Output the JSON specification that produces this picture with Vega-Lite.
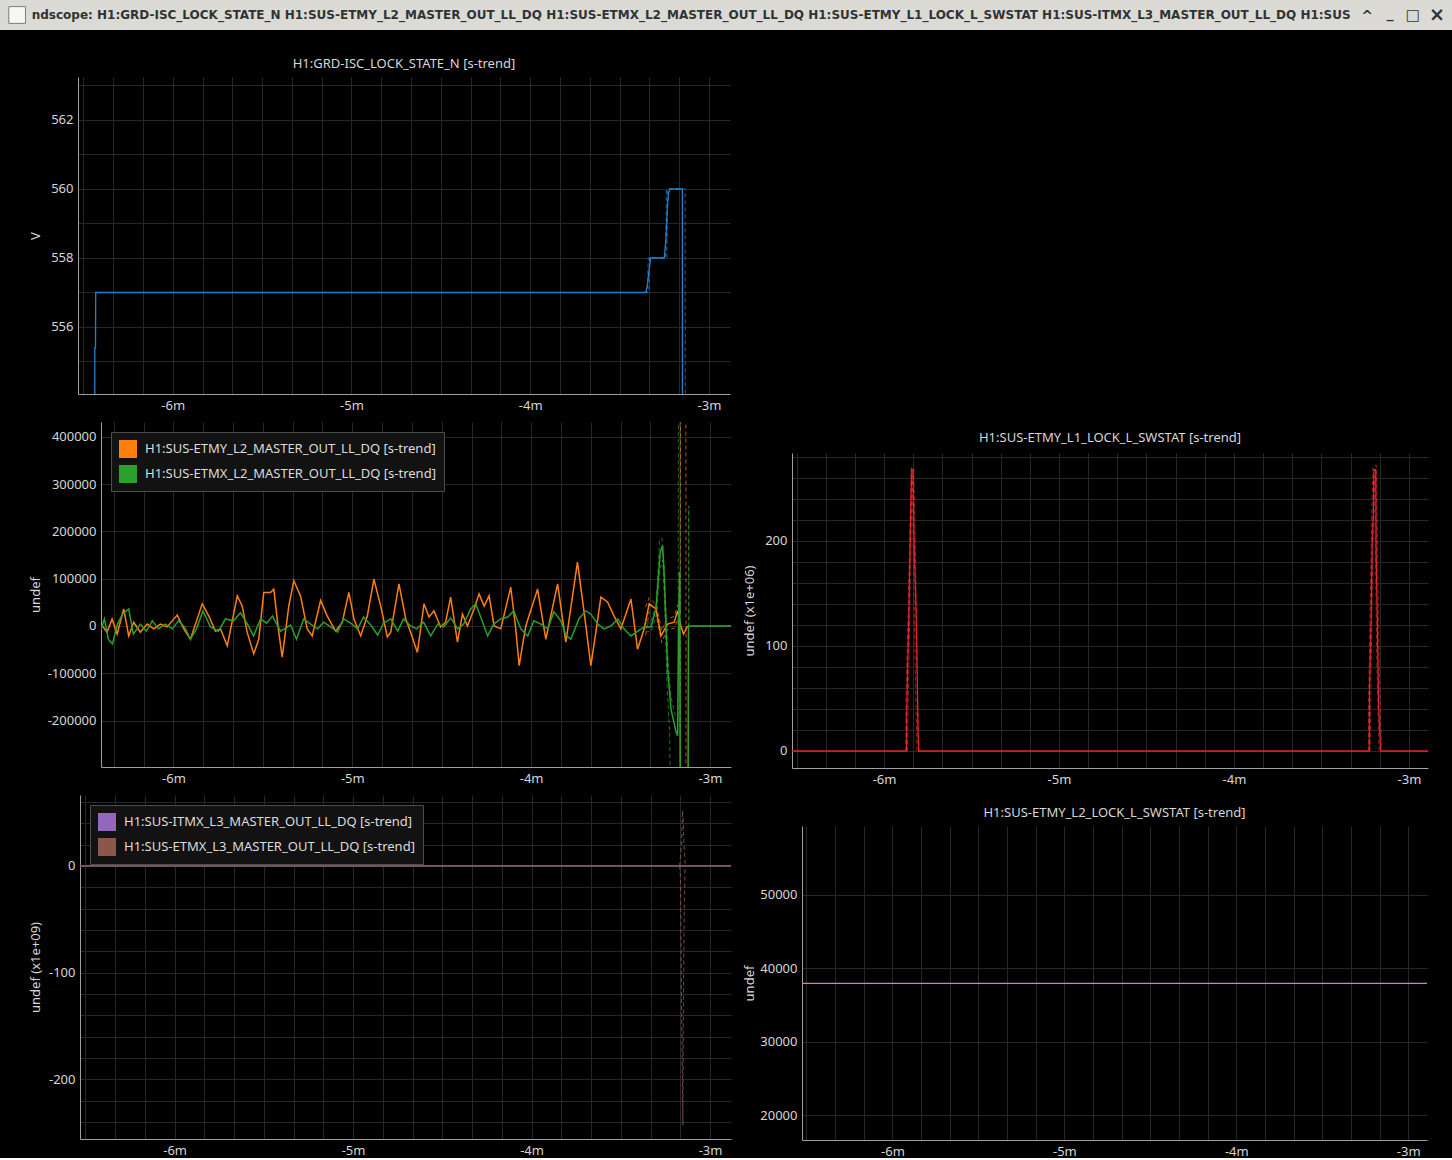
{
  "$schema": "https://vega.github.io/schema/vega-lite/v6.json",
  "background": "#000000",
  "padding": 0,
  "spacing": 28,
  "config": {
    "font": "Noto Sans",
    "view": {"stroke": null},
    "axis": {
      "grid": true, "gridColor": "#282828", "gridWidth": 1,
      "domain": true, "domainColor": "#a0a0a0", "domainWidth": 1,
      "ticks": false, "tickSize": 0,
      "labelColor": "#d6d6d6", "labelFont": "Noto Sans", "labelFontSize": 13, "labelPadding": 5,
      "labelOverlap": false, "labelFlush": false,
      "titleColor": "#d6d6d6", "titleFont": "Noto Sans", "titleFontSize": 13, "titleFontWeight": "normal"
    },
    "title": {"color": "#d6d6d6", "font": "Noto Sans", "fontSize": 13, "fontWeight": "normal", "offset": 6},
    "legend": {
      "orient": "top-left", "offset": 10, "title": null,
      "fillColor": "#121212", "strokeColor": "#4d4d4d", "padding": 8,
      "symbolType": "square", "symbolSize": 324, "symbolStrokeWidth": 0, "symbolOpacity": 1,
      "labelColor": "#dcdcdc", "labelFont": "Noto Sans", "labelFontSize": 13, "labelLimit": 400, "labelOffset": 8,
      "rowPadding": 7
    }
  },
  "datasets": {
    "bar": [
      {"title": "ndscope: H1:GRD-ISC_LOCK_STATE_N H1:SUS-ETMY_L2_MASTER_OUT_LL_DQ H1:SUS-ETMX_L2_MASTER_OUT_LL_DQ H1:SUS-ETMY_L1_LOCK_L_SWSTAT H1:SUS-ITMX_L3_MASTER_OUT_LL_DQ H1:SUS", "b1": "^", "b2": "_", "b3": "□", "b4": "×"}
    ],
    "p1": [
      {"k": "mean", "t": -6.437, "v": 540}, {"k": "mean", "t": -6.436, "v": 555.4}, {"k": "mean", "t": -6.432, "v": 555.4},
      {"k": "mean", "t": -6.431, "v": 557}, {"k": "mean", "t": -3.353, "v": 557}, {"k": "mean", "t": -3.345, "v": 557.2},
      {"k": "mean", "t": -3.334, "v": 557.7}, {"k": "mean", "t": -3.326, "v": 558}, {"k": "mean", "t": -3.25, "v": 558},
      {"k": "mean", "t": -3.241, "v": 558.55}, {"k": "mean", "t": -3.233, "v": 559.45}, {"k": "mean", "t": -3.226, "v": 559.9},
      {"k": "mean", "t": -3.218, "v": 560}, {"k": "mean", "t": -3.149, "v": 560}, {"k": "mean", "t": -3.148, "v": 540},
      {"k": "max", "t": -3.36, "v": 557}, {"k": "max", "t": -3.344, "v": 557}, {"k": "max", "t": -3.34, "v": 558},
      {"k": "max", "t": -3.242, "v": 558}, {"k": "max", "t": -3.238, "v": 560}, {"k": "max", "t": -3.133, "v": 560},
      {"k": "max", "t": -3.132, "v": 540},
      {"k": "min", "t": -3.36, "v": 557}, {"k": "min", "t": -3.336, "v": 557}, {"k": "min", "t": -3.331, "v": 558},
      {"k": "min", "t": -3.236, "v": 558}, {"k": "min", "t": -3.231, "v": 560}, {"k": "min", "t": -3.16, "v": 560}
    ],
    "p2mean": [
      {"s": "ETMY", "t": -6.409, "v": -2000}, {"s": "ETMY", "t": -6.399, "v": 1000}, {"s": "ETMY", "t": -6.371, "v": -13000},
      {"s": "ETMY", "t": -6.343, "v": 15000}, {"s": "ETMY", "t": -6.315, "v": -17000}, {"s": "ETMY", "t": -6.278, "v": 36000},
      {"s": "ETMY", "t": -6.25, "v": -21000}, {"s": "ETMY", "t": -6.222, "v": 8000}, {"s": "ETMY", "t": -6.185, "v": -13000},
      {"s": "ETMY", "t": -6.147, "v": 4000}, {"s": "ETMY", "t": -6.11, "v": -6000}, {"s": "ETMY", "t": -6.073, "v": 4000},
      {"s": "ETMY", "t": -6.035, "v": -2000}, {"s": "ETMY", "t": -5.979, "v": 23000}, {"s": "ETMY", "t": -5.942, "v": -6000},
      {"s": "ETMY", "t": -5.905, "v": -28000}, {"s": "ETMY", "t": -5.839, "v": 47000}, {"s": "ETMY", "t": -5.802, "v": 21000},
      {"s": "ETMY", "t": -5.765, "v": -11000}, {"s": "ETMY", "t": -5.737, "v": -6000}, {"s": "ETMY", "t": -5.699, "v": -42000},
      {"s": "ETMY", "t": -5.643, "v": 64000}, {"s": "ETMY", "t": -5.615, "v": 42000}, {"s": "ETMY", "t": -5.588, "v": -13000},
      {"s": "ETMY", "t": -5.551, "v": -59000}, {"s": "ETMY", "t": -5.523, "v": -28000}, {"s": "ETMY", "t": -5.495, "v": 71000},
      {"s": "ETMY", "t": -5.457, "v": 71000}, {"s": "ETMY", "t": -5.439, "v": 78000}, {"s": "ETMY", "t": -5.411, "v": -13000},
      {"s": "ETMY", "t": -5.392, "v": -66000}, {"s": "ETMY", "t": -5.355, "v": 42000}, {"s": "ETMY", "t": -5.327, "v": 96000},
      {"s": "ETMY", "t": -5.289, "v": 63000}, {"s": "ETMY", "t": -5.252, "v": -6000}, {"s": "ETMY", "t": -5.224, "v": -21000},
      {"s": "ETMY", "t": -5.177, "v": 54000}, {"s": "ETMY", "t": -5.14, "v": 21000}, {"s": "ETMY", "t": -5.093, "v": -11000},
      {"s": "ETMY", "t": -5.056, "v": 8000}, {"s": "ETMY", "t": -5.019, "v": 71000}, {"s": "ETMY", "t": -4.991, "v": 15000},
      {"s": "ETMY", "t": -4.953, "v": -21000}, {"s": "ETMY", "t": -4.916, "v": 21000}, {"s": "ETMY", "t": -4.879, "v": 99000},
      {"s": "ETMY", "t": -4.841, "v": 42000}, {"s": "ETMY", "t": -4.804, "v": -23000}, {"s": "ETMY", "t": -4.785, "v": -13000},
      {"s": "ETMY", "t": -4.739, "v": 89000}, {"s": "ETMY", "t": -4.701, "v": 15000}, {"s": "ETMY", "t": -4.674, "v": -13000},
      {"s": "ETMY", "t": -4.636, "v": -56000}, {"s": "ETMY", "t": -4.599, "v": 47000}, {"s": "ETMY", "t": -4.571, "v": 19000},
      {"s": "ETMY", "t": -4.543, "v": 32000}, {"s": "ETMY", "t": -4.506, "v": -2000}, {"s": "ETMY", "t": -4.478, "v": 8000},
      {"s": "ETMY", "t": -4.45, "v": 61000}, {"s": "ETMY", "t": -4.412, "v": -34000}, {"s": "ETMY", "t": -4.384, "v": 25000},
      {"s": "ETMY", "t": -4.356, "v": 0}, {"s": "ETMY", "t": -4.319, "v": 36000}, {"s": "ETMY", "t": -4.291, "v": 68000},
      {"s": "ETMY", "t": -4.263, "v": 42000}, {"s": "ETMY", "t": -4.235, "v": 64000}, {"s": "ETMY", "t": -4.207, "v": 0},
      {"s": "ETMY", "t": -4.17, "v": -6000}, {"s": "ETMY", "t": -4.114, "v": 82000}, {"s": "ETMY", "t": -4.086, "v": -6000},
      {"s": "ETMY", "t": -4.067, "v": -84000}, {"s": "ETMY", "t": -4.03, "v": 0}, {"s": "ETMY", "t": -3.964, "v": 78000},
      {"s": "ETMY", "t": -3.918, "v": -28000}, {"s": "ETMY", "t": -3.852, "v": 89000}, {"s": "ETMY", "t": -3.806, "v": -34000},
      {"s": "ETMY", "t": -3.741, "v": 135000}, {"s": "ETMY", "t": -3.704, "v": 30000}, {"s": "ETMY", "t": -3.666, "v": -84000},
      {"s": "ETMY", "t": -3.638, "v": -13000}, {"s": "ETMY", "t": -3.61, "v": 61000}, {"s": "ETMY", "t": -3.573, "v": 51000},
      {"s": "ETMY", "t": -3.536, "v": 21000}, {"s": "ETMY", "t": -3.498, "v": -6000}, {"s": "ETMY", "t": -3.442, "v": 57000},
      {"s": "ETMY", "t": -3.405, "v": -49000}, {"s": "ETMY", "t": -3.368, "v": -6000}, {"s": "ETMY", "t": -3.34, "v": 47000},
      {"s": "ETMY", "t": -3.302, "v": 36000}, {"s": "ETMY", "t": -3.274, "v": -21000}, {"s": "ETMY", "t": -3.237, "v": 4000},
      {"s": "ETMY", "t": -3.2, "v": 8000}, {"s": "ETMY", "t": -3.181, "v": 32000}, {"s": "ETMY", "t": -3.163, "v": 0},
      {"s": "ETMY", "t": -3.148, "v": -17000}, {"s": "ETMY", "t": -3.125, "v": 0},
      {"s": "ETMX", "t": -6.409, "v": -11000}, {"s": "ETMX", "t": -6.386, "v": 15000}, {"s": "ETMX", "t": -6.364, "v": -28000},
      {"s": "ETMX", "t": -6.341, "v": -38000}, {"s": "ETMX", "t": -6.313, "v": 4000}, {"s": "ETMX", "t": -6.285, "v": 25000},
      {"s": "ETMX", "t": -6.25, "v": 36000}, {"s": "ETMX", "t": -6.224, "v": -17000}, {"s": "ETMX", "t": -6.185, "v": 4000},
      {"s": "ETMX", "t": -6.151, "v": -11000}, {"s": "ETMX", "t": -6.118, "v": 11000}, {"s": "ETMX", "t": -6.084, "v": -6000},
      {"s": "ETMX", "t": -6.045, "v": 4000}, {"s": "ETMX", "t": -6.006, "v": -6000}, {"s": "ETMX", "t": -5.972, "v": 11000},
      {"s": "ETMX", "t": -5.938, "v": -2000}, {"s": "ETMX", "t": -5.905, "v": -28000}, {"s": "ETMX", "t": -5.871, "v": -6000},
      {"s": "ETMX", "t": -5.835, "v": 32000}, {"s": "ETMX", "t": -5.793, "v": -2000}, {"s": "ETMX", "t": -5.748, "v": -11000},
      {"s": "ETMX", "t": -5.709, "v": 15000}, {"s": "ETMX", "t": -5.664, "v": 11000}, {"s": "ETMX", "t": -5.625, "v": 28000},
      {"s": "ETMX", "t": -5.586, "v": 4000}, {"s": "ETMX", "t": -5.552, "v": -21000}, {"s": "ETMX", "t": -5.513, "v": 15000},
      {"s": "ETMX", "t": -5.479, "v": 6000}, {"s": "ETMX", "t": -5.446, "v": 21000}, {"s": "ETMX", "t": -5.401, "v": -11000},
      {"s": "ETMX", "t": -5.345, "v": 2000}, {"s": "ETMX", "t": -5.312, "v": -28000}, {"s": "ETMX", "t": -5.272, "v": 15000},
      {"s": "ETMX", "t": -5.233, "v": 4000}, {"s": "ETMX", "t": -5.194, "v": -6000}, {"s": "ETMX", "t": -5.16, "v": 8000},
      {"s": "ETMX", "t": -5.121, "v": -2000}, {"s": "ETMX", "t": -5.082, "v": -13000}, {"s": "ETMX", "t": -5.049, "v": 15000},
      {"s": "ETMX", "t": -5.009, "v": 6000}, {"s": "ETMX", "t": -4.97, "v": -6000}, {"s": "ETMX", "t": -4.937, "v": 19000},
      {"s": "ETMX", "t": -4.897, "v": 2000}, {"s": "ETMX", "t": -4.858, "v": -19000}, {"s": "ETMX", "t": -4.825, "v": 6000},
      {"s": "ETMX", "t": -4.785, "v": 15000}, {"s": "ETMX", "t": -4.746, "v": -11000}, {"s": "ETMX", "t": -4.713, "v": 15000},
      {"s": "ETMX", "t": -4.674, "v": 0}, {"s": "ETMX", "t": -4.64, "v": -6000}, {"s": "ETMX", "t": -4.601, "v": 8000},
      {"s": "ETMX", "t": -4.562, "v": -21000}, {"s": "ETMX", "t": -4.522, "v": 4000}, {"s": "ETMX", "t": -4.489, "v": -2000},
      {"s": "ETMX", "t": -4.45, "v": 17000}, {"s": "ETMX", "t": -4.41, "v": -6000}, {"s": "ETMX", "t": -4.377, "v": 4000},
      {"s": "ETMX", "t": -4.338, "v": 36000}, {"s": "ETMX", "t": -4.31, "v": 47000}, {"s": "ETMX", "t": -4.282, "v": 19000},
      {"s": "ETMX", "t": -4.243, "v": -21000}, {"s": "ETMX", "t": -4.209, "v": 4000}, {"s": "ETMX", "t": -4.17, "v": 15000},
      {"s": "ETMX", "t": -4.131, "v": 19000}, {"s": "ETMX", "t": -4.097, "v": 32000}, {"s": "ETMX", "t": -4.058, "v": -6000},
      {"s": "ETMX", "t": -4.019, "v": -21000}, {"s": "ETMX", "t": -3.985, "v": 11000}, {"s": "ETMX", "t": -3.946, "v": 4000},
      {"s": "ETMX", "t": -3.907, "v": -6000}, {"s": "ETMX", "t": -3.873, "v": 30000}, {"s": "ETMX", "t": -3.834, "v": 11000},
      {"s": "ETMX", "t": -3.806, "v": -19000}, {"s": "ETMX", "t": -3.778, "v": -28000}, {"s": "ETMX", "t": -3.733, "v": 15000},
      {"s": "ETMX", "t": -3.694, "v": 32000}, {"s": "ETMX", "t": -3.666, "v": 25000}, {"s": "ETMX", "t": -3.627, "v": 4000},
      {"s": "ETMX", "t": -3.593, "v": -6000}, {"s": "ETMX", "t": -3.554, "v": 0}, {"s": "ETMX", "t": -3.515, "v": 15000},
      {"s": "ETMX", "t": -3.481, "v": -6000}, {"s": "ETMX", "t": -3.442, "v": -21000}, {"s": "ETMX", "t": -3.403, "v": -11000},
      {"s": "ETMX", "t": -3.369, "v": -2000}, {"s": "ETMX", "t": -3.33, "v": -2000}, {"s": "ETMX", "t": -3.302, "v": 36000},
      {"s": "ETMX", "t": -3.278, "v": 156000}, {"s": "ETMX", "t": -3.265, "v": 170000}, {"s": "ETMX", "t": -3.256, "v": 106000},
      {"s": "ETMX", "t": -3.237, "v": -91000}, {"s": "ETMX", "t": -3.218, "v": -176000}, {"s": "ETMX", "t": -3.19, "v": -224000},
      {"s": "ETMX", "t": -3.181, "v": -232000}, {"s": "ETMX", "t": -3.175, "v": 15000}, {"s": "ETMX", "t": -3.17, "v": 114000},
      {"s": "ETMX", "t": -3.166, "v": -400000}, {"s": "ETMX", "t": -3.123, "v": -400000}, {"s": "ETMX", "t": -3.12, "v": 0},
      {"s": "ETMX", "t": -2.86, "v": 0}
    ],
    "p2env": [
      {"s": "ETMY", "k": "max", "t": -3.36, "v": 40000}, {"s": "ETMY", "k": "max", "t": -3.34, "v": 60000},
      {"s": "ETMY", "k": "max", "t": -3.3, "v": 45000}, {"s": "ETMY", "k": "max", "t": -3.27, "v": -10000},
      {"s": "ETMY", "k": "max", "t": -3.24, "v": 15000}, {"s": "ETMY", "k": "max", "t": -3.2, "v": 20000},
      {"s": "ETMY", "k": "max", "t": -3.18, "v": 45000}, {"s": "ETMY", "k": "max", "t": -3.166, "v": 25000},
      {"s": "ETMY", "k": "max", "t": -3.163, "v": 1000000}, {"s": "ETMY", "k": "max", "t": -3.136, "v": 1000000},
      {"s": "ETMY", "k": "max", "t": -3.134, "v": 0},
      {"s": "ETMY", "k": "min", "t": -3.36, "v": -20000}, {"s": "ETMY", "k": "min", "t": -3.34, "v": 30000},
      {"s": "ETMY", "k": "min", "t": -3.3, "v": 20000}, {"s": "ETMY", "k": "min", "t": -3.27, "v": -35000},
      {"s": "ETMY", "k": "min", "t": -3.24, "v": -8000}, {"s": "ETMY", "k": "min", "t": -3.2, "v": -5000},
      {"s": "ETMY", "k": "min", "t": -3.18, "v": 15000}, {"s": "ETMY", "k": "min", "t": -3.166, "v": -25000},
      {"s": "ETMY", "k": "min", "t": -3.163, "v": -1000000}, {"s": "ETMY", "k": "min", "t": -3.136, "v": -1000000},
      {"s": "ETMY", "k": "min", "t": -3.134, "v": 0},
      {"s": "ETMX", "k": "max", "t": -3.36, "v": 5000}, {"s": "ETMX", "k": "max", "t": -3.33, "v": 8000},
      {"s": "ETMX", "k": "max", "t": -3.3, "v": 48000}, {"s": "ETMX", "k": "max", "t": -3.282, "v": 184000},
      {"s": "ETMX", "k": "max", "t": -3.268, "v": 185000}, {"s": "ETMX", "k": "max", "t": -3.255, "v": 120000},
      {"s": "ETMX", "k": "max", "t": -3.236, "v": -60000}, {"s": "ETMX", "k": "max", "t": -3.218, "v": -150000},
      {"s": "ETMX", "k": "max", "t": -3.19, "v": -195000}, {"s": "ETMX", "k": "max", "t": -3.178, "v": -200000},
      {"s": "ETMX", "k": "max", "t": -3.176, "v": 600000}, {"s": "ETMX", "k": "max", "t": -3.168, "v": 600000},
      {"s": "ETMX", "k": "max", "t": -3.166, "v": -600000}, {"s": "ETMX", "k": "max", "t": -3.121, "v": -600000},
      {"s": "ETMX", "k": "max", "t": -3.119, "v": 254000}, {"s": "ETMX", "k": "max", "t": -3.117, "v": 0},
      {"s": "ETMX", "k": "max", "t": -2.87, "v": 0},
      {"s": "ETMX", "k": "min", "t": -3.36, "v": -12000}, {"s": "ETMX", "k": "min", "t": -3.33, "v": -12000},
      {"s": "ETMX", "k": "min", "t": -3.3, "v": 20000}, {"s": "ETMX", "k": "min", "t": -3.28, "v": 120000},
      {"s": "ETMX", "k": "min", "t": -3.265, "v": 140000}, {"s": "ETMX", "k": "min", "t": -3.255, "v": 60000},
      {"s": "ETMX", "k": "min", "t": -3.24, "v": -130000}, {"s": "ETMX", "k": "min", "t": -3.225, "v": -230000},
      {"s": "ETMX", "k": "min", "t": -3.215, "v": -600000}, {"s": "ETMX", "k": "min", "t": -3.122, "v": -600000},
      {"s": "ETMX", "k": "min", "t": -3.121, "v": 0}, {"s": "ETMX", "k": "min", "t": -2.87, "v": 0}
    ],
    "p3mean": [
      {"t": -6.54, "v": 0}, {"t": -5.872, "v": 0}, {"t": -5.87, "v": 40}, {"t": -5.865, "v": 80},
      {"t": -5.859, "v": 122}, {"t": -5.853, "v": 180}, {"t": -5.846, "v": 237}, {"t": -5.842, "v": 268},
      {"t": -5.834, "v": 268}, {"t": -5.83, "v": 215}, {"t": -5.825, "v": 180}, {"t": -5.817, "v": 134},
      {"t": -5.811, "v": 77}, {"t": -5.806, "v": 18}, {"t": -5.802, "v": 0},
      {"t": -3.227, "v": 0}, {"t": -3.225, "v": 60}, {"t": -3.216, "v": 128}, {"t": -3.21, "v": 198},
      {"t": -3.204, "v": 223}, {"t": -3.2, "v": 268}, {"t": -3.19, "v": 268}, {"t": -3.187, "v": 185},
      {"t": -3.181, "v": 128}, {"t": -3.173, "v": 42}, {"t": -3.166, "v": 17}, {"t": -3.162, "v": 0},
      {"t": -2.87, "v": 0}
    ],
    "p3env": [
      {"k": "max", "g": 1, "t": -5.876, "v": 0}, {"k": "max", "g": 1, "t": -5.874, "v": 60}, {"k": "max", "g": 1, "t": -5.862, "v": 130},
      {"k": "max", "g": 1, "t": -5.85, "v": 230}, {"k": "max", "g": 1, "t": -5.845, "v": 270}, {"k": "max", "g": 1, "t": -5.83, "v": 270},
      {"k": "max", "g": 1, "t": -5.822, "v": 200}, {"k": "max", "g": 1, "t": -5.812, "v": 100}, {"k": "max", "g": 1, "t": -5.805, "v": 30},
      {"k": "max", "g": 1, "t": -5.8, "v": 0},
      {"k": "min", "g": 1, "t": -5.866, "v": 0}, {"k": "min", "g": 1, "t": -5.86, "v": 60}, {"k": "min", "g": 1, "t": -5.852, "v": 140},
      {"k": "min", "g": 1, "t": -5.843, "v": 230}, {"k": "min", "g": 1, "t": -5.838, "v": 262}, {"k": "min", "g": 1, "t": -5.834, "v": 200},
      {"k": "min", "g": 1, "t": -5.826, "v": 120}, {"k": "min", "g": 1, "t": -5.817, "v": 40}, {"k": "min", "g": 1, "t": -5.812, "v": 0},
      {"k": "max", "g": 2, "t": -3.232, "v": 0}, {"k": "max", "g": 2, "t": -3.23, "v": 50}, {"k": "max", "g": 2, "t": -3.22, "v": 150},
      {"k": "max", "g": 2, "t": -3.212, "v": 230}, {"k": "max", "g": 2, "t": -3.205, "v": 272}, {"k": "max", "g": 2, "t": -3.186, "v": 272},
      {"k": "max", "g": 2, "t": -3.18, "v": 200}, {"k": "max", "g": 2, "t": -3.17, "v": 80}, {"k": "max", "g": 2, "t": -3.16, "v": 20},
      {"k": "max", "g": 2, "t": -3.157, "v": 0},
      {"k": "min", "g": 2, "t": -3.222, "v": 0}, {"k": "min", "g": 2, "t": -3.214, "v": 100}, {"k": "min", "g": 2, "t": -3.206, "v": 200},
      {"k": "min", "g": 2, "t": -3.198, "v": 262}, {"k": "min", "g": 2, "t": -3.192, "v": 200}, {"k": "min", "g": 2, "t": -3.185, "v": 100},
      {"k": "min", "g": 2, "t": -3.176, "v": 30}, {"k": "min", "g": 2, "t": -3.17, "v": 0}
    ],
    "p4": [
      {"t": -6.54, "v": 37960}, {"t": -2.87, "v": 37960}
    ],
    "p5mean": [
      {"s": "ITMX", "t": -6.54, "v": 0}, {"s": "ITMX", "t": -2.87, "v": 0},
      {"s": "ETMX", "t": -6.54, "v": 0}, {"s": "ETMX", "t": -2.87, "v": 0}
    ],
    "p5env": [
      {"k": "max", "t": -3.17, "v": 0}, {"k": "max", "t": -3.16, "v": 20},
      {"k": "max", "t": -3.154, "v": 52}, {"k": "max", "t": -3.15, "v": 40},
      {"k": "max", "t": -3.146, "v": 20}, {"k": "max", "t": -3.14, "v": 3},
      {"k": "max", "t": -3.135, "v": 0},
      {"k": "min", "t": -3.17, "v": 0}, {"k": "min", "t": -3.166, "v": -10},
      {"k": "min", "t": -3.16, "v": -120}, {"k": "min", "t": -3.152, "v": -243},
      {"k": "min", "t": -3.15, "v": -150}, {"k": "min", "t": -3.146, "v": -60},
      {"k": "min", "t": -3.14, "v": 0}
    ]
  },
  "vconcat": [
    {
      "width": 1452,
      "height": 30,
      "view": {"fill": "#dcdad5", "stroke": null},
      "data": {"name": "bar"},
      "layer": [
        {
          "mark": {"type": "point", "shape": "square", "filled": true, "size": 280, "fill": "#f7f7f7", "stroke": "#7d7d7d", "strokeWidth": 1, "opacity": 1},
          "encoding": {"x": {"datum": 0.0118, "type": "quantitative", "scale": {"domain": [0, 1], "nice": false, "zero": false}, "axis": null}}
        },
        {
          "mark": {"type": "text", "align": "left", "baseline": "middle", "font": "DejaVu Sans", "fontSize": 12, "fontWeight": "bold", "color": "#2e3436"},
          "encoding": {"x": {"datum": 0.0218, "type": "quantitative"}, "text": {"field": "title"}}
        },
        {
          "mark": {"type": "text", "align": "center", "baseline": "middle", "font": "DejaVu Sans", "fontSize": 14, "fontWeight": "bold", "color": "#2e3436", "dy": 2},
          "encoding": {"x": {"datum": 0.9415, "type": "quantitative"}, "text": {"field": "b1"}}
        },
        {
          "mark": {"type": "text", "align": "center", "baseline": "middle", "font": "DejaVu Sans", "fontSize": 14, "fontWeight": "bold", "color": "#2e3436", "dy": -1},
          "encoding": {"x": {"datum": 0.9573, "type": "quantitative"}, "text": {"field": "b2"}}
        },
        {
          "mark": {"type": "text", "align": "center", "baseline": "middle", "font": "DejaVu Sans", "fontSize": 15, "fontWeight": "bold", "color": "#2e3436"},
          "encoding": {"x": {"datum": 0.9731, "type": "quantitative"}, "text": {"field": "b3"}}
        },
        {
          "mark": {"type": "text", "align": "center", "baseline": "middle", "font": "DejaVu Sans", "fontSize": 19, "fontWeight": "bold", "color": "#2e3436"},
          "encoding": {"x": {"datum": 0.9897, "type": "quantitative"}, "text": {"field": "b4"}}
        }
      ]
    },
    {
      "hconcat": [
        {
          "width": 17, "height": 1,
          "data": {"values": [{}]},
          "mark": {"type": "point", "opacity": 0, "size": 0}
        },
        {
          "vconcat": [
            {"hconcat": [
              {"width": 1, "height": 1, "data": {"values": [{}]}, "mark": {"type": "point", "opacity": 0, "size": 0}},
              {
                "width": 652, "height": 317,
                "title": "H1:GRD-ISC_LOCK_STATE_N [s-trend]",
                "data": {"name": "p1"},
                "encoding": {
                  "x": {"field": "t", "type": "quantitative", "title": null,
                    "scale": {"domain": [-6.53, -2.8825], "nice": false, "zero": false},
                    "axis": {"values": [-6.5, -6.3333, -6.1667, -6, -5.8333, -5.6667, -5.5, -5.3333, -5.1667, -5, -4.8333, -4.6667, -4.5, -4.3333, -4.1667, -4, -3.8333, -3.6667, -3.5, -3.3333, -3.1667, -3],
                      "labelExpr": "abs(datum.value - round(datum.value)) < 0.01 ? round(datum.value) + 'm' : ''"}},
                  "y": {"field": "v", "type": "quantitative", "title": "V",
                    "scale": {"domain": [554.058, 563.246], "nice": false, "zero": false},
                    "axis": {"values": [555, 556, 557, 558, 559, 560, 561, 562, 563],
                      "labelExpr": "datum.value % 2 == 0 ? '' + datum.value : ''", "titlePadding": 8}}
                },
                "layer": [
                  {"transform": [{"filter": "datum.k != 'mean'"}],
                   "mark": {"type": "line", "clip": true, "color": "#2580cc", "strokeDash": [4, 3], "strokeWidth": 1, "opacity": 0.75},
                   "encoding": {"detail": {"field": "k"}}},
                  {"transform": [{"filter": "datum.k == 'mean'"}],
                   "mark": {"type": "line", "clip": true, "color": "#2580cc", "strokeWidth": 1.3}}
                ]
              }
            ], "spacing": 0},
            {"hconcat": [
              {"width": 1, "height": 1, "data": {"values": [{}]}, "mark": {"type": "point", "opacity": 0, "size": 0}},
              {
                "width": 630, "height": 345,
                "encoding": {
                  "x": {"field": "t", "type": "quantitative", "title": null,
                    "scale": {"domain": [-6.405, -2.8825], "nice": false, "zero": false},
                    "axis": {"values": [-6.3333, -6.1667, -6, -5.8333, -5.6667, -5.5, -5.3333, -5.1667, -5, -4.8333, -4.6667, -4.5, -4.3333, -4.1667, -4, -3.8333, -3.6667, -3.5, -3.3333, -3.1667, -3],
                      "labelExpr": "abs(datum.value - round(datum.value)) < 0.01 ? round(datum.value) + 'm' : ''"}},
                  "y": {"field": "v", "type": "quantitative", "title": "undef",
                    "scale": {"domain": [-298400, 431700], "nice": false, "zero": false},
                    "axis": {"values": [-200000, -100000, 0, 100000, 200000, 300000, 400000],
                      "labelExpr": "'' + datum.value", "titlePadding": 5}}
                },
                "layer": [
                  {"data": {"name": "p2env"},
                   "transform": [{"filter": "datum.s == 'ETMY'"}],
                   "mark": {"type": "line", "clip": true, "color": "#ff7f0e", "strokeDash": [4, 3], "strokeWidth": 1, "opacity": 0.7},
                   "encoding": {"detail": {"field": "k"}}},
                  {"data": {"name": "p2env"},
                   "transform": [{"filter": "datum.s == 'ETMX'"}],
                   "mark": {"type": "line", "clip": true, "color": "#2ca02c", "strokeDash": [4, 3], "strokeWidth": 1, "opacity": 0.7},
                   "encoding": {"detail": {"field": "k"}}},
                  {"data": {"name": "p2mean"},
                   "mark": {"type": "line", "clip": true, "strokeWidth": 1.5},
                   "encoding": {
                     "color": {"field": "s", "type": "nominal",
                       "scale": {"domain": ["ETMY", "ETMX"], "range": ["#ff7f0e", "#2ca02c"]},
                       "legend": {"orient": "top-left",
                         "labelExpr": "'H1:SUS-' + datum.label + '_L2_MASTER_OUT_LL_DQ [s-trend]'",
                         "encode": {"symbols": {"update": {"fill": {"signal": "datum.value == 'ETMY' ? '#ff7f0e' : '#2ca02c'"}}}}}}}}
                ]
              }
            ], "spacing": 0,
            "resolve": {"scale": {"color": "independent"}, "legend": {"color": "independent"}}},
            {"hconcat": [
              {"width": 1, "height": 1, "data": {"values": [{}]}, "mark": {"type": "point", "opacity": 0, "size": 0}},
              {
                "width": 651, "height": 344,
                "encoding": {
                  "x": {"field": "t", "type": "quantitative", "title": null,
                    "scale": {"domain": [-6.53, -2.8825], "nice": false, "zero": false},
                    "axis": {"values": [-6.5, -6.3333, -6.1667, -6, -5.8333, -5.6667, -5.5, -5.3333, -5.1667, -5, -4.8333, -4.6667, -4.5, -4.3333, -4.1667, -4, -3.8333, -3.6667, -3.5, -3.3333, -3.1667, -3],
                      "labelExpr": "abs(datum.value - round(datum.value)) < 0.01 ? round(datum.value) + 'm' : ''"}},
                  "y": {"field": "v", "type": "quantitative", "title": "undef (x1e+09)",
                    "scale": {"domain": [-255.9, 66.5], "nice": false, "zero": false},
                    "axis": {"values": [-240, -220, -200, -180, -160, -140, -120, -100, -80, -60, -40, -20, 0, 20, 40, 60],
                      "labelExpr": "datum.value % 100 == 0 ? '' + datum.value : ''", "titlePadding": 6}}
                },
                "layer": [
                  {"data": {"name": "p5env"},
                   "mark": {"type": "line", "clip": true, "color": "#8c564b", "strokeDash": [4, 3], "strokeWidth": 1, "opacity": 0.85},
                   "encoding": {"detail": {"field": "k"}}},
                  {"data": {"name": "p5mean"},
                   "mark": {"type": "line", "clip": true, "strokeWidth": 1.2},
                   "encoding": {
                     "color": {"field": "s", "type": "nominal",
                       "scale": {"domain": ["ITMX", "ETMX"], "range": ["#9467bd", "#8c564b"]},
                       "legend": {"orient": "top-left",
                         "labelExpr": "'H1:SUS-' + datum.label + '_L3_MASTER_OUT_LL_DQ [s-trend]'",
                         "encode": {"symbols": {"update": {"fill": {"signal": "datum.value == 'ITMX' ? '#9467bd' : '#8c564b'"}}}}}}}}
                ]
              }
            ], "spacing": 0,
            "resolve": {"scale": {"color": "independent"}, "legend": {"color": "independent"}}}
          ],
          "spacing": 10,
          "resolve": {"scale": {"x": "independent", "y": "independent", "color": "independent"}, "legend": {"color": "independent"}}
        },
        {
          "vconcat": [
            {
              "width": 1, "height": 333,
              "data": {"values": [{}]},
              "mark": {"type": "point", "opacity": 0, "size": 0}
            },
            {"hconcat": [
              {"width": 1, "height": 1, "data": {"values": [{}]}, "mark": {"type": "point", "opacity": 0, "size": 0}},
              {
                "width": 636, "height": 315,
                "title": "H1:SUS-ETMY_L1_LOCK_L_SWSTAT [s-trend]",
                "encoding": {
                  "x": {"field": "t", "type": "quantitative", "title": null,
                    "scale": {"domain": [-6.526, -2.891], "nice": false, "zero": false},
                    "axis": {"values": [-6.5, -6.3333, -6.1667, -6, -5.8333, -5.6667, -5.5, -5.3333, -5.1667, -5, -4.8333, -4.6667, -4.5, -4.3333, -4.1667, -4, -3.8333, -3.6667, -3.5, -3.3333, -3.1667, -3],
                      "labelExpr": "abs(datum.value - round(datum.value)) < 0.01 ? round(datum.value) + 'm' : ''"}},
                  "y": {"field": "v", "type": "quantitative", "title": "undef (x1e+06)",
                    "scale": {"domain": [-16.2, 283.8], "nice": false, "zero": false},
                    "axis": {"values": [0, 20, 40, 60, 80, 100, 120, 140, 160, 180, 200, 220, 240, 260, 280],
                      "labelExpr": "datum.value % 100 == 0 ? '' + datum.value : ''", "titlePadding": 8}}
                },
                "layer": [
                  {"data": {"name": "p3env"},
                   "mark": {"type": "line", "clip": true, "color": "#d62728", "strokeDash": [4, 3], "strokeWidth": 1, "opacity": 0.75},
                   "encoding": {"detail": [{"field": "k"}, {"field": "g"}]}},
                  {"data": {"name": "p3mean"},
                   "mark": {"type": "line", "clip": true, "color": "#e0282a", "strokeWidth": 1.3}}
                ]
              }
            ], "spacing": 0},
            {"hconcat": [
              {"width": 1, "height": 1, "data": {"values": [{}]}, "mark": {"type": "point", "opacity": 0, "size": 0}},
              {
                "width": 625, "height": 314,
                "title": "H1:SUS-ETMY_L2_LOCK_L_SWSTAT [s-trend]",
                "data": {"name": "p4"},
                "mark": {"type": "line", "clip": true, "color": "#e377c2", "strokeWidth": 1.3},
                "encoding": {
                  "x": {"field": "t", "type": "quantitative", "title": null,
                    "scale": {"domain": [-6.526, -2.891], "nice": false, "zero": false},
                    "axis": {"values": [-6.5, -6.3333, -6.1667, -6, -5.8333, -5.6667, -5.5, -5.3333, -5.1667, -5, -4.8333, -4.6667, -4.5, -4.3333, -4.1667, -4, -3.8333, -3.6667, -3.5, -3.3333, -3.1667, -3],
                      "labelExpr": "abs(datum.value - round(datum.value)) < 0.01 ? round(datum.value) + 'm' : ''"}},
                  "y": {"field": "v", "type": "quantitative", "title": "undef",
                    "scale": {"domain": [16591, 59409], "nice": false, "zero": false},
                    "axis": {"values": [20000, 30000, 40000, 50000], "labelExpr": "'' + datum.value", "titlePadding": 3}}
                }
              }
            ], "spacing": 0}
          ],
          "spacing": 21,
          "resolve": {"scale": {"x": "independent", "y": "independent"}}
        }
      ],
      "spacing": 11,
      "resolve": {"scale": {"color": "independent"}, "legend": {"color": "independent"}}
    }
  ],
  "resolve": {"scale": {"color": "independent"}, "legend": {"color": "independent"}}
}
